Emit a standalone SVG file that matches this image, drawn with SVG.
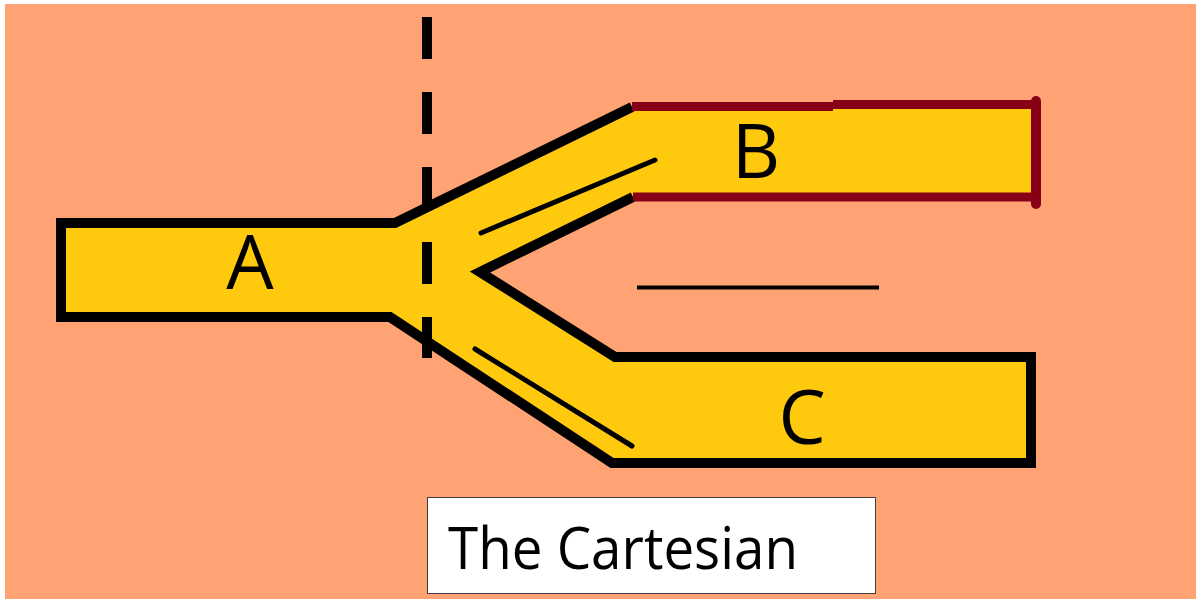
<svg xmlns="http://www.w3.org/2000/svg" width="1196" height="599" viewBox="0 0 1196 599">
  <style>
    .lbl { font-family: "Open Sans", "Liberation Sans", sans-serif; fill: #000; }
    .out { fill: none; stroke: #000; stroke-width: 10; stroke-linejoin: miter; }
    .red { fill: none; stroke: #880015; stroke-width: 9; }
    .thin { stroke: #000; stroke-width: 5; stroke-linecap: round; }
  </style>
  <rect x="0" y="0" width="1196" height="599" fill="#ffffff"/>
  <rect id="background" x="5" y="4" width="1191" height="595" fill="#FFA375"/>
  <g id="pipe">
    <polygon fill="#FFC90E" points="61,223 395,223 632,107 1036,107 1036,197 633,197 480,272 615,357 1031,357 1031,463 612,463 390,317 61,317"/>
    <path class="out" d="M632,107 L395,223 L61,223 L61,317 L390,317 L612,463 L1031,463 L1031,357 L615,357 L480,272 L633,197"/>
    <path class="red" d="M632,106.5 L833,106.5 M833,104.5 L1036,104.5 M1036,197 L633,197"/>
    <line x1="1036" y1="101" x2="1036" y2="204" stroke="#880015" stroke-width="10" stroke-linecap="round"/>
  </g>
  <g id="connectors">
    <line class="thin" x1="481" y1="233" x2="655" y2="160"/>
    <line class="thin" x1="475" y1="349" x2="632" y2="446"/>
    <line x1="427" y1="17" x2="427" y2="358" stroke="#000" stroke-width="10" stroke-dasharray="42 33"/>
    <line x1="637" y1="287.5" x2="879" y2="287.5" stroke="#000" stroke-width="4"/>
  </g>
  <g id="node-A"><text class="lbl" x="250" y="289" font-size="75" text-anchor="middle">A</text></g>
  <g id="node-B"><text class="lbl" x="756" y="178" font-size="75" text-anchor="middle">B</text></g>
  <g id="node-C"><text class="lbl" x="802" y="444" font-size="75" text-anchor="middle">C</text></g>
  <g id="caption">
    <rect x="427.5" y="497.5" width="448" height="96" fill="#ffffff" stroke="#404040" stroke-width="1"/>
    <text class="lbl" x="448" y="569" font-size="58" textLength="350" lengthAdjust="spacingAndGlyphs">The Cartesian</text>
  </g>
</svg>
